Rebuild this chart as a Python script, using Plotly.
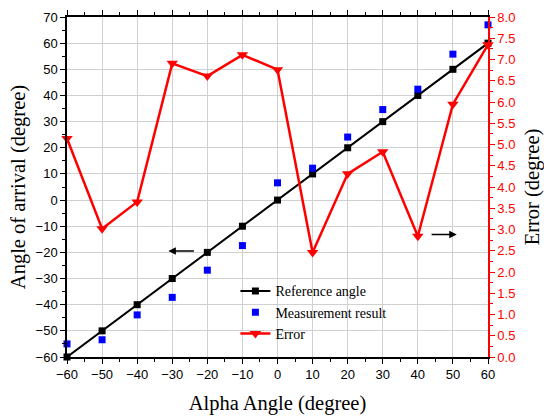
import plotly.graph_objects as go

alpha = [-60, -50, -40, -30, -20, -10, 0, 10, 20, 30, 40, 50, 60]
reference_angle = [-60, -50, -40, -30, -20, -10, 0, 10, 20, 30, 40, 50, 60]
measurement = [-55, -53.4, -43.9, -37.2, -26.8, -17.4, 6.6, 12.2, 24.1, 34.6, 42.4, 55.8, 67]
error = [5.14, 3.02, 3.65, 6.91, 6.61, 7.11, 6.76, 2.46, 4.31, 4.83, 2.84, 5.95, 7.35]

fig = go.Figure()
fig.add_trace(go.Scatter(
    x=alpha, y=reference_angle, name="Reference angle", mode="lines+markers",
    line=dict(color="black", width=2), marker=dict(symbol="square", size=7, color="black"),
    cliponaxis=False))
fig.add_trace(go.Scatter(
    x=alpha, y=measurement, name="Measurement result", mode="markers",
    marker=dict(symbol="square", size=7, color="#0000ff"), cliponaxis=False))
fig.add_trace(go.Scatter(
    x=alpha, y=error, name="Error", mode="lines+markers", yaxis="y2",
    line=dict(color="#ff0000", width=2.5),
    marker=dict(symbol="triangle-down", size=10, color="#ff0000"), cliponaxis=False))

tickfont = dict(family="Liberation Sans, Arial", size=13, color="black")
titlefont = dict(family="Liberation Serif, Times New Roman", size=20.5, color="black")

fig.update_layout(
    width=544, height=416,
    margin=dict(l=67, r=56, t=17, b=59, autoexpand=False),
    plot_bgcolor="white", paper_bgcolor="white",
    showlegend=True,
    legend=dict(x=0.40, y=0.24, xanchor="left", yanchor="top",
                bgcolor="rgba(255,255,255,0)",
                font=dict(family="Liberation Serif, Times New Roman", size=14, color="black"),
                tracegroupgap=0, itemwidth=30),
    xaxis=dict(
        range=[-60, 60], dtick=10, tick0=-60, showgrid=True, gridcolor="#d0d0d0", gridwidth=1,
        showline=True, linecolor="black", linewidth=1.5, mirror="ticks", automargin=False,
        ticks="outside", ticklen=5, tickcolor="black", tickwidth=1,
        minor=dict(dtick=5, ticks="outside", ticklen=3, tickcolor="black", showgrid=False),
        tickfont=tickfont, zeroline=False,
        title=dict(text="Alpha Angle (degree)", font=titlefont, standoff=14)),
    yaxis=dict(
        range=[-60, 70], dtick=10, tick0=-60, showgrid=True, gridcolor="#d0d0d0", gridwidth=1,
        showline=True, linecolor="black", linewidth=1.5, automargin=False,
        ticks="outside", ticklen=5, tickcolor="black", tickwidth=1,
        minor=dict(dtick=5, ticks="outside", ticklen=3, tickcolor="black", showgrid=False),
        tickfont=tickfont, zeroline=False,
        title=dict(text="Angle of arrival (degree)", font=titlefont, standoff=4)),
    yaxis2=dict(
        range=[0, 8], dtick=0.5, tick0=0, overlaying="y", side="right", showgrid=False,
        showline=True, linecolor="#ff0000", linewidth=1.5, automargin=False,
        ticks="outside", ticklen=5, tickcolor="#ff0000", tickwidth=1, tickformat=".1f",
        minor=dict(dtick=0.25, ticks="outside", ticklen=3, tickcolor="#ff0000", showgrid=False),
        tickfont=dict(family="Liberation Sans, Arial", size=13, color="#ff0000"), zeroline=False,
        title=dict(text="Error (degree)", font=titlefont, standoff=11)),
)

fig.add_annotation(x=-31.1, y=-19.5, ax=-23.4, ay=-19.5, xref="x", yref="y", axref="x", ayref="y",
                   text="", showarrow=True, arrowhead=2, arrowsize=1, arrowwidth=1.5, arrowcolor="black")
fig.add_annotation(x=51.1, y=-13.2, ax=43.5, ay=-13.2, xref="x", yref="y", axref="x", ayref="y",
                   text="", showarrow=True, arrowhead=2, arrowsize=1, arrowwidth=1.5, arrowcolor="black")

fig.write_html("out.html", config={"displayModeBar": False},
               post_script="document.body.style.margin='0';document.body.style.overflow='hidden';")
